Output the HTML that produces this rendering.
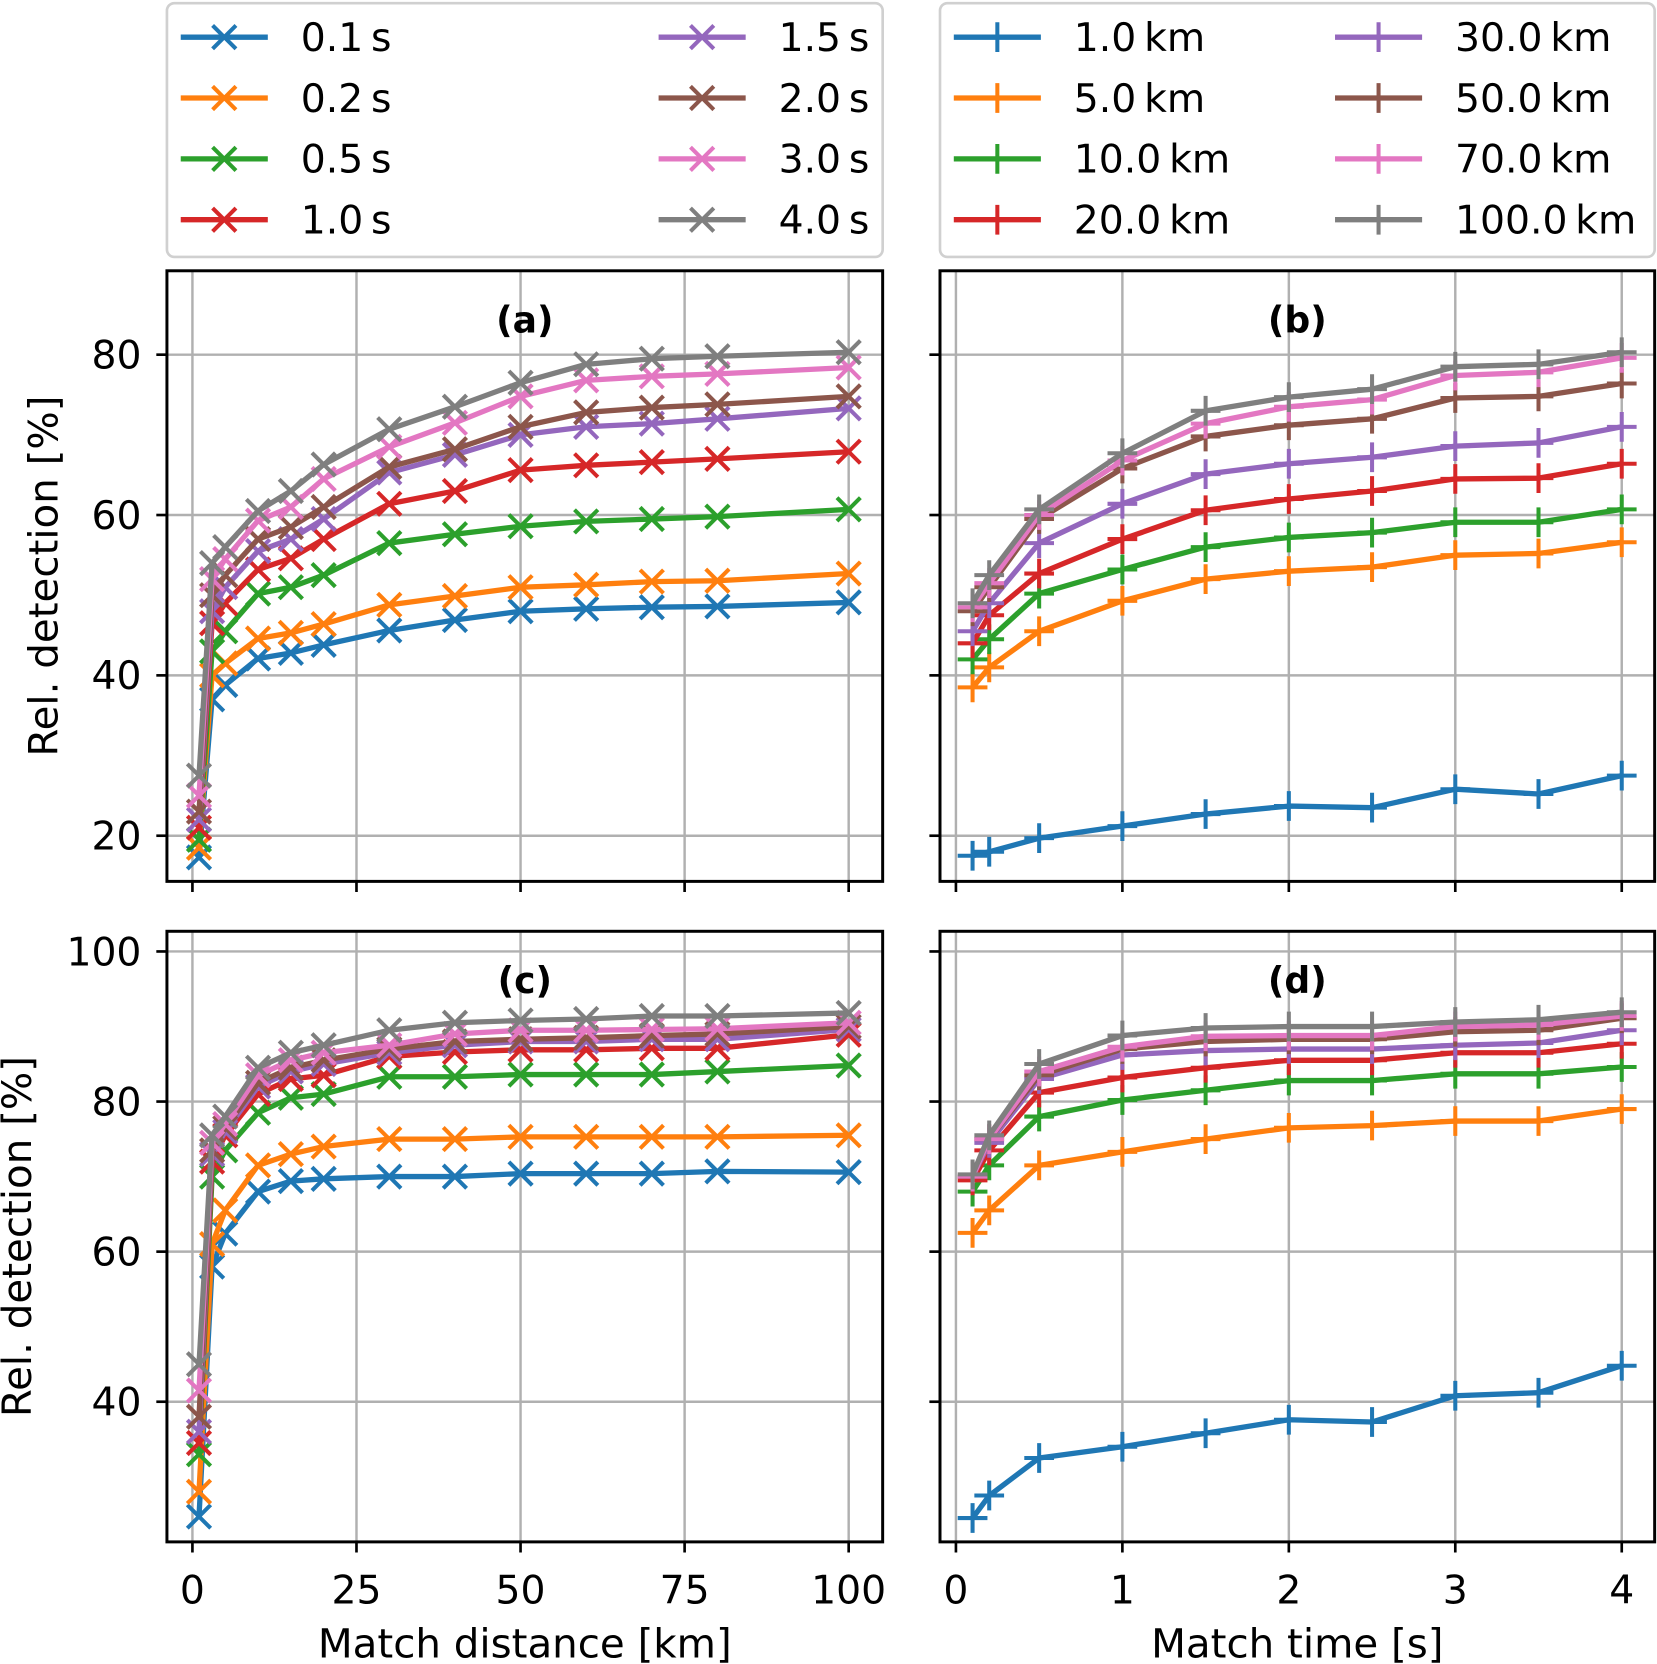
<!DOCTYPE html>
<html><head><meta charset="utf-8"><style>
html,body{margin:0;padding:0;background:#fff}
svg{display:block;font-family:"DejaVu Sans","Liberation Sans",sans-serif}
</style></head><body>
<svg id="fig" xmlns="http://www.w3.org/2000/svg" width="1657" height="1664" viewBox="0 0 1560 1567"></svg>
<script>
const colors=['#1f77b4','#ff7f0e','#2ca02c','#d62728','#9467bd','#8c564b','#e377c2','#7f7f7f'];
const timeLabels=['0.1','0.2','0.5','1.0','1.5','2.0','3.0','4.0'];
const distLabels=['1.0','5.0','10.0','20.0','30.0','50.0','70.0','100.0'];
const distX=[1,3,5,10,15,20,30,40,50,60,70,80,100];
const timeX=[0.1,0.2,0.5,1,1.5,2,2.5,3,3.5,4];
const dataA=[
[17.3,37,38.8,42.1,42.8,43.8,45.6,46.9,48,48.3,48.5,48.6,49.1],
[18.5,40,41.5,44.6,45.3,46.4,48.8,49.9,51,51.3,51.7,51.8,52.7],
[19.5,43,45.5,50.2,51,52.5,56.5,57.6,58.6,59.2,59.5,59.8,60.7],
[21,46.5,49,53.2,54.6,57,61.4,63,65.6,66.2,66.6,67,67.9],
[22,48,51,55.5,57,59.5,65.3,67.5,70,71,71.4,72,73.3],
[23,50,52.5,57,58.5,61,66,68.2,71,72.8,73.4,73.8,74.8],
[25,52,54.5,59.3,61,64.5,68.5,71.5,74.8,76.8,77.3,77.6,78.4],
[27.5,54,56,60.5,63,66.3,70.7,73.5,76.5,78.8,79.5,79.8,80.3]];
const dataB=[
[17.5,18,19.7,21.2,22.7,23.7,23.5,25.8,25.2,27.5],
[38.5,41,45.5,49.3,52,53,53.5,55,55.2,56.6],
[42,44.5,50.2,53.2,56,57.2,57.8,59.1,59.1,60.7],
[44,47.5,52.7,57,60.6,62,63,64.5,64.6,66.4],
[45.5,49,56.5,61.4,65.1,66.4,67.2,68.6,69,71],
[48,51,59.5,65.8,69.8,71.2,72,74.6,74.8,76.4],
[48.5,51.5,60,66.8,71.4,73.5,74.4,77.4,77.8,79.6],
[49,52.5,60.7,67.7,73,74.7,75.7,78.5,78.8,80.3]];
const dataC=[
[24.7,58,62.4,68,69.4,69.7,70,70,70.4,70.4,70.4,70.7,70.6],
[28,61,65.5,71.5,73,74,75,75,75.3,75.3,75.3,75.3,75.5],
[33,70,73.5,78.5,80.5,81,83.3,83.3,83.6,83.6,83.6,84,84.8],
[34.5,72,75.5,81,83,83.5,86,86.6,86.9,86.9,87.1,87.1,88.9],
[36,73,76,82,84,85,86.5,87.5,88,88,88.3,88.3,89.6],
[38,73.5,76.5,82.5,84.5,85.5,87,88,88.3,88.5,88.8,89,90],
[41.5,74.5,77,83.5,85.5,86.5,87.5,89,89.5,89.5,89.6,89.7,90.5],
[45,75.5,78,84.5,86.5,87.5,89.5,90.5,90.8,91,91.4,91.4,91.8]];
const dataD=[
[24.5,27.5,32.5,34,35.8,37.6,37.3,40.8,41.2,44.8],
[62.5,65.5,71.5,73.3,75,76.5,76.8,77.4,77.4,79],
[68,71.5,78,80.2,81.5,82.8,82.8,83.7,83.7,84.6],
[69.5,73.5,81.2,83.2,84.5,85.5,85.5,86.5,86.5,87.7],
[70,74.5,83,86.2,86.8,87,87,87.5,87.8,89.5],
[70,75,83.5,87,88,88.3,88.3,89.3,89.5,91.1],
[70,75,84,87.3,88.7,88.8,88.8,90,90.2,91.4],
[70.3,75.5,85,88.8,89.8,90,90,90.6,90.9,91.9]];
const xTicksDist=[0,25,50,75,100];
const xTicksTime=[0,1,2,3,4];
const yTicksTop=[20,40,60,80];
const yTicksBot=[40,60,80,100];

const NS='http://www.w3.org/2000/svg';
const svg=document.getElementById('fig');
function el(tag,attrs,parent){const e=document.createElementNS(NS,tag);for(const k in attrs)e.setAttribute(k,attrs[k]);(parent||svg).appendChild(e);return e;}

function marker(g,type,x,y,c){
  if(type==='x'){
    const s=11;
    const m=el('path',{d:`M${x-s} ${y-s}L${x+s} ${y+s}M${x-s} ${y+s}L${x+s} ${y-s}`,stroke:c,'stroke-width':3.8,fill:'none'},g);
    
    
  } else {
    const s2=14;
    const m=el('path',{d:`M${x-s2} ${y}L${x+s2} ${y}M${x} ${y-s2}L${x} ${y+s2}`,stroke:c,'stroke-width':3.8,fill:'none'},g);
    
    
  }
}

function panel(o){
  const {name,x0,x1,y0,y1,xmin,xmax,ymin,ymax,xt,yt,xs,data,mk,title,showXLabels,showYLabels,xlabel,ylabel}=o;
  const g=el('g',{});
  
  
  const sx=v=>x0+(v-xmin)/(xmax-xmin)*(x1-x0);
  const sy=v=>y1-(v-ymin)/(ymax-ymin)*(y1-y0);
  const grid=el('g',{},g);
  
  
  xt.forEach(t=>{el('line',{x1:sx(t),x2:sx(t),y1:y0,y2:y1,stroke:'#b0b0b0','stroke-width':2.3},grid);
    el('line',{x1:sx(t),x2:sx(t),y1:y1,y2:y1+10,stroke:'#000','stroke-width':2.5},g);
    if(showXLabels){const tx=el('text',{x:sx(t),y:y1+58,'font-size':37,'text-anchor':'middle',fill:'#000'},g);tx.textContent=t;
      }
  });
  yt.forEach(t=>{el('line',{x1:x0,x2:x1,y1:sy(t),y2:sy(t),stroke:'#b0b0b0','stroke-width':2.3},grid);
    el('line',{x1:x0-10,x2:x0,y1:sy(t),y2:sy(t),stroke:'#000','stroke-width':2.5},g);
    if(showYLabels){const tx=el('text',{x:x0-24,y:sy(t)+13,'font-size':37,'text-anchor':'end',fill:'#000'},g);tx.textContent=t;
      }
  });
  const clip='clip-'+name;
  const cp=el('clipPath',{id:clip},g);el('rect',{x:x0,y:y0,width:x1-x0,height:y1-y0},cp);
  const sg=el('g',{'clip-path':`url(#${clip})`},g);
  data.forEach((ser,i)=>{
    const pts=ser.map((v,j)=>sx(xs[j]).toFixed(1)+','+sy(v).toFixed(1)).join(' ');
    const pl=el('polyline',{points:pts,fill:'none',stroke:colors[i],'stroke-width':5,'stroke-linejoin':'round'},sg);
    
    
    ser.forEach((v,j)=>marker(sg,mk,sx(xs[j]),sy(v),colors[i]));
  });
  el('rect',{x:x0,y:y0,width:x1-x0,height:y1-y0,fill:'none',stroke:'#000','stroke-width':2.8},g);
  const tt=el('text',{x:(x0+x1)/2,y:y0+58,'font-size':34,'font-weight':'bold','text-anchor':'middle'},g);
  tt.textContent=title;
  if(xlabel){const t=el('text',{x:(x0+x1)/2,y:1561,'font-size':38,'text-anchor':'middle'},g);t.textContent=xlabel;
    }
  if(ylabel){const cy=(y0+y1)/2,cx=o.ylx;const t=el('text',{x:cx,y:cy,'font-size':38,'text-anchor':'middle',transform:`rotate(-90 ${cx} ${cy})`},g);t.textContent=ylabel;
    }
}
const dxmin=-(181-157)/6.18, dxmax=100+(831-799)/6.18;
const txmin=-(900-885)/156.75, txmax=4+(1558-1527)/156.75;
const ayMin=80-(830-334)/7.55, ayMax=80+(334-255)/7.55;
const cyMin=100-(1452-896)/7.067, cyMax=100+(896-877)/7.067;
panel({name:'panel-a',x0:157,x1:831,y0:255,y1:830,xmin:dxmin,xmax:dxmax,ymin:ayMin,ymax:ayMax,xt:xTicksDist,yt:yTicksTop,xs:distX,data:dataA,mk:'x',title:'(a)',showXLabels:false,showYLabels:true,ylabel:'Rel. detection [%]',ylx:54});
panel({name:'panel-b',x0:885,x1:1558,y0:255,y1:830,xmin:txmin,xmax:txmax,ymin:ayMin,ymax:ayMax,xt:xTicksTime,yt:yTicksTop,xs:timeX,data:dataB,mk:'+',title:'(b)',showXLabels:false,showYLabels:false});
panel({name:'panel-c',x0:157,x1:831,y0:877,y1:1452,xmin:dxmin,xmax:dxmax,ymin:cyMin,ymax:cyMax,xt:xTicksDist,yt:yTicksBot,xs:distX,data:dataC,mk:'x',title:'(c)',showXLabels:true,showYLabels:true,xlabel:'Match distance [km]',ylabel:'Rel. detection [%]',ylx:29});
panel({name:'panel-d',x0:885,x1:1558,y0:877,y1:1452,xmin:txmin,xmax:txmax,ymin:cyMin,ymax:cyMax,xt:xTicksTime,yt:yTicksBot,xs:timeX,data:dataD,mk:'+',title:'(d)',showXLabels:true,showYLabels:false,xlabel:'Match time [s]'});

function legend(name,x0,x1,labels,unit,mk,col2){
  const g=el('g',{});
  
  
  el('rect',{x:x0,y:3,width:x1-x0,height:239,rx:7,fill:'#fff',stroke:'#d0d0d0','stroke-width':2.5},g);
  labels.forEach((l,i)=>{
    const col=Math.floor(i/4),row=i%4;
    const lx=x0+13+col*col2, y=35+row*57.3;
    const e=el('g',{},g);
    
    
    el('line',{x1:lx,x2:lx+82,y1:y,y2:y,stroke:colors[i],'stroke-width':5},e);
    marker(e,mk,lx+41,y,colors[i]);
    const t=el('text',{x:lx+113,y:y+13,'font-size':37},e);t.textContent=l+'\u2009'+unit;
  });
}
legend('legend-time',157,831,timeLabels,'s','x',450);
legend('legend-distance',885,1558,distLabels,'km','+',359);
</script>
</body></html>
